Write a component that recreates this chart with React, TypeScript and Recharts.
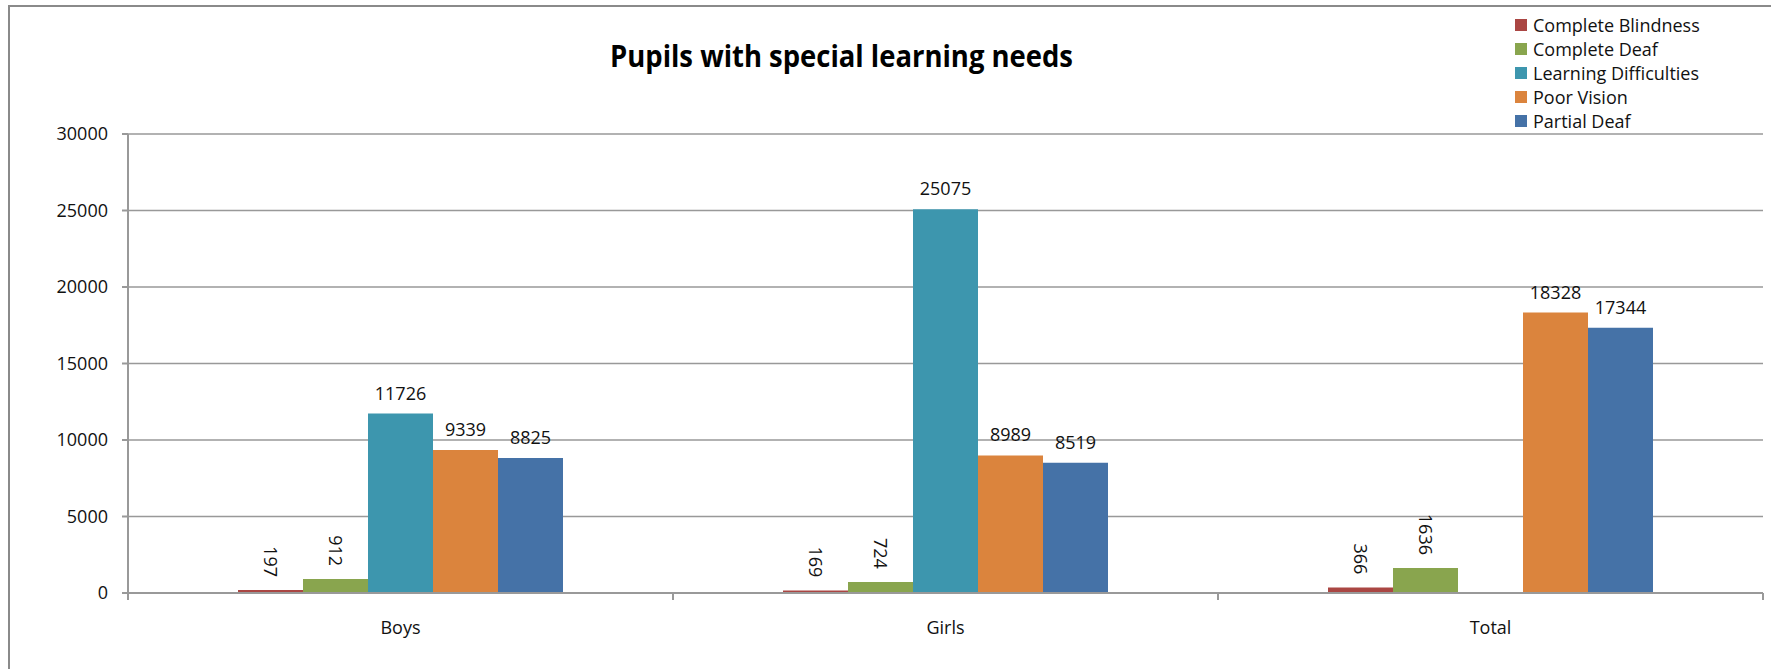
import { Bar, BarChart, CartesianGrid, LabelList, Legend, XAxis, YAxis } from 'recharts';

const categories = ['Boys', 'Girls', 'Total'];
const completeBlindness = [197, 169, 366];
const completeDeaf = [912, 724, 1636];
const learningDifficulties: (number | null)[] = [11726, 25075, null];
const poorVision = [9339, 8989, 18328];
const partialDeaf = [8825, 8519, 17344];
const yTicks = [0, 5000, 10000, 15000, 20000, 25000, 30000];

const series = [
  { key: 'blindness', name: 'Complete Blindness', color: '#AA4643', values: completeBlindness },
  { key: 'deaf', name: 'Complete Deaf', color: '#89A54E', values: completeDeaf },
  { key: 'learning', name: 'Learning Difficulties', color: '#3D96AE', values: learningDifficulties },
  { key: 'vision', name: 'Poor Vision', color: '#DB843D', values: poorVision },
  { key: 'partial', name: 'Partial Deaf', color: '#4572A7', values: partialDeaf },
];

const data = categories.map((cat, i) => {
  const row: Record<string, string | number | null> = { cat };
  series.forEach((s) => {
    row[s.key] = s.values[i];
  });
  return row;
});

const FONT = '"Open Sans", sans-serif';
const GRID = '#999';

function ValueLabel(props: any) {
  const { x, y, width, value } = props;
  if (value == null) return null;
  const cx = Number(x) + Number(width) / 2;
  const top = Number(y);
  if (Number(value) < 5000) {
    return (
      <text
        transform={`translate(${cx},${top - 13}) rotate(90)`}
        textAnchor="end"
        dominantBaseline="central"
        fontFamily={FONT}
        fontSize={18}
        fill="#111"
      >
        {value}
      </text>
    );
  }
  return (
    <text x={cx} y={top - 14} textAnchor="middle" fontFamily={FONT} fontSize={18} fill="#111">
      {value}
    </text>
  );
}

function CategoryTick(props: any) {
  const { x, y, payload, index, visibleTicksCount } = props;
  const half = payload?.offset ?? 0;
  const last = index === visibleTicksCount - 1;
  return (
    <g>
      <line x1={x - half} x2={x - half} y1={y} y2={y + 7} stroke={GRID} strokeWidth={2} />
      {last && <line x1={x + half} x2={x + half} y1={y} y2={y + 7} stroke={GRID} strokeWidth={2} />}
      <text x={x} y={y + 41} textAnchor="middle" fontFamily={FONT} fontSize={18} fill="#111">
        {payload.value}
      </text>
    </g>
  );
}

// legend keeps the series order (recharts would sort it by name)
function LegendBox() {
  return (
    <ul style={{ listStyle: 'none', margin: 0, padding: 0, fontFamily: FONT, fontSize: 18 }}>
      {series.map((s) => (
        <li key={s.key} style={{ height: 24, display: 'flex', alignItems: 'center', color: '#111' }}>
          <span style={{ width: 12, height: 12, background: s.color, marginRight: 6, display: 'inline-block' }} />
          {s.name}
        </li>
      ))}
    </ul>
  );
}

export default function App() {
  return (
    <div style={{ position: 'fixed', left: 0, top: 0, width: 1771, height: 669, overflow: 'hidden', background: '#fff' }}>
      <div
        style={{
          position: 'absolute',
          left: 8,
          top: 5,
          width: 2000,
          height: 1000,
          border: '2px solid #8a8a8a',
        }}
      />
      <div style={{ position: 'absolute', left: 0, top: 0 }}>
        <BarChart
          width={1771}
          height={669}
          data={data}
          margin={{ top: 134, right: 8, bottom: 0, left: 0 }}
          barCategoryGap={110}
          barGap={0}
        >
          <CartesianGrid vertical={false} stroke={GRID} strokeWidth={1.5} />
          <XAxis
            dataKey="cat"
            height={76}
            tickLine={false}
            tickSize={0}
            tickMargin={0}
            axisLine={{ stroke: GRID, strokeWidth: 2 }}
            tick={<CategoryTick />}
            interval={0}
          />
          <YAxis
            width={128}
            domain={[0, 30000]}
            ticks={yTicks}
            tickSize={6}
            tickMargin={14}
            axisLine={{ stroke: GRID, strokeWidth: 2 }}
            tickLine={{ stroke: GRID, strokeWidth: 2 }}
            tick={{ fontFamily: FONT, fontSize: 18, fill: '#111' }}
          />
          <Legend
            layout="horizontal"
            align="center"
            verticalAlign="middle"
            content={<LegendBox />}
            wrapperStyle={{ left: 1515, top: 13, width: 250, height: 120 }}
          />
          {series.map((s) => (
            <Bar key={s.key} dataKey={s.key} name={s.name} fill={s.color} isAnimationActive={false}>
              <LabelList dataKey={s.key} content={<ValueLabel />} />
            </Bar>
          ))}
        </BarChart>
      </div>
      <svg style={{ position: 'absolute', left: 0, top: 0 }} width={1771} height={100}>
        <text
          x={610}
          y={67}
          textLength={463}
          lengthAdjust="spacingAndGlyphs"
          fontFamily={FONT}
          fontWeight="bold"
          fontSize={30}
          fill="#000"
        >
          Pupils with special learning needs
        </text>
      </svg>
    </div>
  );
}
